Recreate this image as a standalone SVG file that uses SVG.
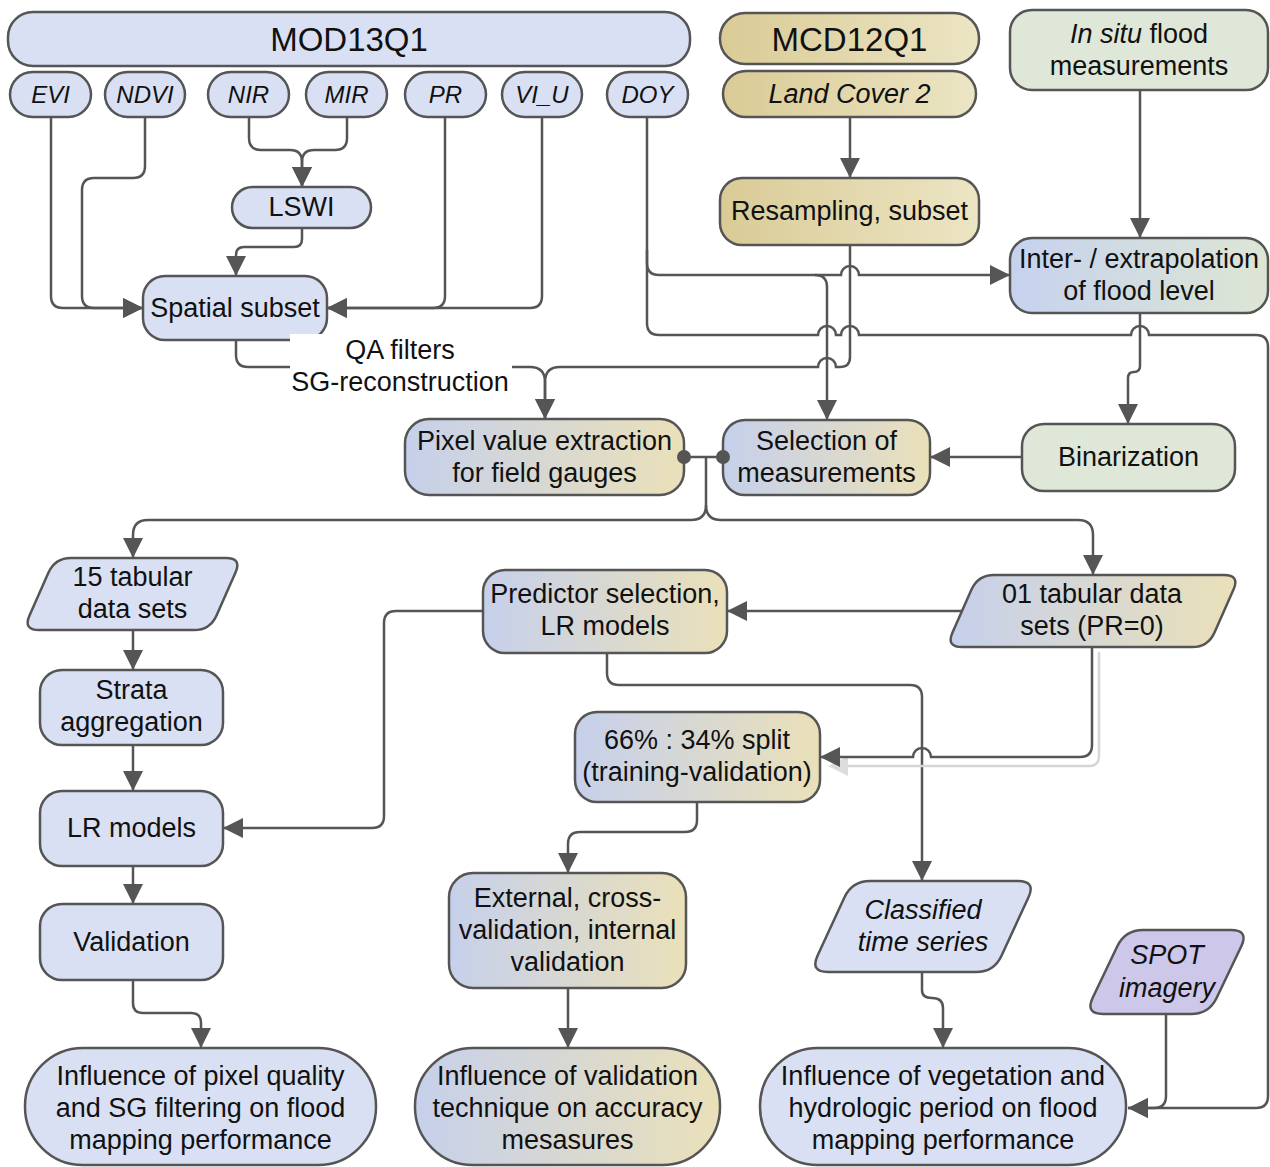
<svg xmlns="http://www.w3.org/2000/svg" width="1270" height="1167" viewBox="0 0 1270 1167">
<defs>
<style>
.n{stroke:#555;stroke-width:2.5}
.b{fill:#d9e0f3}
.g{fill:#dfe7d9}
.p{fill:#cdc7ea}
.t{font-family:"Liberation Sans",Arial,sans-serif;font-size:27px;fill:#111;text-anchor:middle}
.s{font-size:24px;font-style:italic}
.h{font-size:33px}
.i{font-style:italic}
.c{fill:none;stroke:#555;stroke-width:2.5}
</style>
<linearGradient id="gBT" x1="0" y1="0" x2="1" y2="0"><stop offset="0" stop-color="#c6d0eb"/><stop offset="1" stop-color="#eae0b9"/></linearGradient>
<linearGradient id="gBG" x1="0" y1="0" x2="1" y2="0"><stop offset="0" stop-color="#c6d2ee"/><stop offset="1" stop-color="#dde6d4"/></linearGradient>
<linearGradient id="gT" x1="0" y1="0" x2="1" y2="0"><stop offset="0" stop-color="#dacb96"/><stop offset="1" stop-color="#ece5c4"/></linearGradient>
<marker id="ah" markerUnits="userSpaceOnUse" markerWidth="20" markerHeight="20" refX="20" refY="10" orient="auto"><path d="M0,0 L20,10 L0,20 Z" fill="#555"/></marker>
</defs>
<rect width="1270" height="1167" fill="#fff"/>

<g id="connectors">
<path class="c" d="M51,117 V296 Q51,308 63,308 H143" marker-end="url(#ah)"/>
<path class="c" d="M145,117 V166 Q145,178 133,178 H94 Q82,178 82,190 V296 Q82,308 94,308 H143" marker-end="url(#ah)"/>
<path class="c" d="M249,117 V138 Q249,150 261,150 H290 Q302,150 302,162 V187" marker-end="url(#ah)"/>
<path class="c" d="M347,117 V138 Q347,150 335,150 H314 Q302,150 302,162 V187" marker-end="url(#ah)"/>
<path class="c" d="M302,228 V239 Q302,247 294,247 H244 Q236,247 236,255 V276" marker-end="url(#ah)"/>
<path class="c" d="M445,117 V296 Q445,308 433,308 H327" marker-end="url(#ah)"/>
<path class="c" d="M542,117 V296 Q542,308 530,308 H327" marker-end="url(#ah)"/>
<path class="c" d="M236,340 V355 Q236,367 248,367 H530 Q545,367 545,382 V419" marker-end="url(#ah)"/>
<path class="c" d="M850,245 V357 Q850,367 840,367 H836 A9,9 0 0 0 818,367 H560 Q545,367 545,382 V419" marker-end="url(#ah)"/>
<path class="c" d="M850,117 V178" marker-end="url(#ah)"/>
<path class="c" d="M1140,90 V238" marker-end="url(#ah)"/>
<path class="c" d="M647,117 V263 Q647,275 659,275 H841 A9,9 0 0 1 859,275 H1010" marker-end="url(#ah)"/>
<path class="c" d="M815,275 Q827,275 827,287 V420" marker-end="url(#ah)"/>
<path class="c" d="M647,250 V323 Q647,335 659,335 H818 A9,9 0 0 1 836,335 H841 A9,9 0 0 1 859,335 H1131 A9,9 0 0 1 1149,335 H1256 Q1268,335 1268,347 V1096 Q1268,1108 1256,1108 H1128" marker-end="url(#ah)"/>
<path class="c" d="M1140,313 V366 Q1140,372 1134,372 Q1128,372 1128,378 V424" marker-end="url(#ah)"/>
<path class="c" d="M1022,457 H930" marker-end="url(#ah)"/>
<path class="c" d="M684,457 H723 M706,457 V505"/>
<path class="c" d="M706,505 Q706,520 691,520 H148 Q133,520 133,535 V558" marker-end="url(#ah)"/>
<path class="c" d="M706,505 Q706,520 721,520 H1078 Q1093,520 1093,535 V575" marker-end="url(#ah)"/>
<path class="c" d="M133,630 V670" marker-end="url(#ah)"/>
<path class="c" d="M133,745 V791" marker-end="url(#ah)"/>
<path class="c" d="M133,866 V904" marker-end="url(#ah)"/>
<path class="c" d="M133,980 V1003 Q133,1013 143,1013 H191 Q201,1013 201,1023 V1048" marker-end="url(#ah)"/>
<path class="c" d="M962,611 H727" marker-end="url(#ah)"/>
<path class="c" d="M483,611 H396 Q384,611 384,623 V816 Q384,828 372,828 H223" marker-end="url(#ah)"/>
<path class="c" d="M607,653 V673 Q607,685 619,685 H910 Q922,685 922,697 V881" marker-end="url(#ah)"/>
<path fill="none" stroke="#d6d6d6" stroke-width="2.5" d="M1099,652 V756 Q1099,766 1089,766 H846"/>
<polygon points="828,766 848,756 848,776" fill="#dcdcdc"/>
<path class="c" d="M1092,647 V745 Q1092,757 1080,757 H931 A9,9 0 0 0 913,757 H820" marker-end="url(#ah)"/>
<path class="c" d="M697,802 V820 Q697,832 685,832 H580 Q568,832 568,844 V873" marker-end="url(#ah)"/>
<path class="c" d="M568,988 V1048" marker-end="url(#ah)"/>
<path class="c" d="M922,972 V990 Q922,998 932,998 Q943,998 943,1008 V1048" marker-end="url(#ah)"/>
<path class="c" d="M1166,1014 V1096 Q1166,1108 1154,1108 H1128" marker-end="url(#ah)"/>
</g>

<g id="mod13q1"><rect class="n b" x="8" y="12" width="682" height="54" rx="25"/><text class="t h" x="349" y="51">MOD13Q1</text></g>
<g id="evi"><rect class="n b" x="10" y="72" width="81" height="45" rx="22.5"/><text class="t s" x="50.5" y="103">EVI</text></g>
<g id="ndvi"><rect class="n b" x="105" y="72" width="80" height="45" rx="22.5"/><text class="t s" x="145" y="103">NDVI</text></g>
<g id="nir"><rect class="n b" x="208" y="72" width="81" height="45" rx="22.5"/><text class="t s" x="248.5" y="103">NIR</text></g>
<g id="mir"><rect class="n b" x="306" y="72" width="81" height="45" rx="22.5"/><text class="t s" x="346.5" y="103">MIR</text></g>
<g id="pr"><rect class="n b" x="405" y="72" width="81" height="45" rx="22.5"/><text class="t s" x="445.5" y="103">PR</text></g>
<g id="viu"><rect class="n b" x="502" y="72" width="80" height="45" rx="22.5"/><text class="t s" x="542" y="103">VI_U</text></g>
<g id="doy"><rect class="n b" x="607" y="72" width="81" height="45" rx="22.5"/><text class="t s" x="647.5" y="103">DOY</text></g>
<g id="mcd12q1"><rect class="n" fill="url(#gT)" x="720" y="13" width="259" height="51" rx="25"/><text class="t h" x="849.5" y="51">MCD12Q1</text></g>
<g id="landcover"><rect class="n" fill="url(#gT)" x="723" y="71" width="253" height="46" rx="23"/><text class="t i" x="849.5" y="103">Land Cover 2</text></g>
<g id="insitu"><rect class="n g" x="1010" y="10" width="258" height="80" rx="22"/><text class="t" x="1139" y="43"><tspan font-style="italic">In situ</tspan> flood</text><text class="t" x="1139" y="75">measurements</text></g>
<g id="lswi"><rect class="n b" x="232" y="187" width="139" height="41" rx="20.5"/><text class="t" x="301.5" y="216">LSWI</text></g>
<g id="spatial"><rect class="n b" x="143" y="276" width="184" height="64" rx="22"/><text class="t" x="235" y="317">Spatial subset</text></g>
<g id="resampling"><rect class="n" fill="url(#gT)" x="720" y="178" width="259" height="67" rx="22"/><text class="t" x="849.5" y="220">Resampling, subset</text></g>
<g id="interp"><rect class="n" fill="url(#gBG)" x="1010" y="238" width="258" height="75" rx="22"/><text class="t" x="1139" y="268">Inter- / extrapolation</text><text class="t" x="1139" y="300">of flood level</text></g>
<g id="pixel"><rect class="n" fill="url(#gBT)" x="405" y="419" width="279" height="76" rx="24"/><text class="t" x="544.5" y="450">Pixel value extraction</text><text class="t" x="544.5" y="482">for field gauges</text></g>
<g id="selection"><rect class="n" fill="url(#gBT)" x="723" y="420" width="207" height="75" rx="22"/><text class="t" x="826.5" y="450">Selection of</text><text class="t" x="826.5" y="482">measurements</text></g>
<g id="binarization"><rect class="n g" x="1022" y="424" width="213" height="67" rx="22"/><text class="t" x="1128.5" y="466">Binarization</text></g>
<g id="tab15"><path class="n b" d="M71,558 L226,558 Q242,558 235.5,572.6 L216.5,615.4 Q210,630 194,630 L39,630 Q23,630 29.5,615.4 L48.5,572.6 Q55,558 71,558 Z"/><text class="t" x="132.5" y="586">15 tabular</text><text class="t" x="132.5" y="618">data sets</text></g>
<g id="predictor"><rect class="n" fill="url(#gBT)" x="483" y="570" width="244" height="83" rx="22"/><text class="t" x="605" y="603">Predictor selection,</text><text class="t" x="605" y="635">LR models</text></g>
<g id="tab01"><path class="n" fill="url(#gBT)" d="M994,575 L1224,575 Q1240,575 1233.5,589.6 L1214.5,632.4 Q1208,647 1192,647 L962,647 Q946,647 952.5,632.4 L971.5,589.6 Q978,575 994,575 Z"/><text class="t" x="1092" y="603">01 tabular data</text><text class="t" x="1092" y="635">sets (PR=0)</text></g>
<g id="strata"><rect class="n b" x="40" y="670" width="183" height="75" rx="22"/><text class="t" x="131.5" y="699">Strata</text><text class="t" x="131.5" y="731">aggregation</text></g>
<g id="split"><rect class="n" fill="url(#gBT)" x="575" y="712" width="245" height="90" rx="22"/><text class="t" x="697" y="749">66% : 34% split</text><text class="t" x="697" y="781">(training-validation)</text></g>
<g id="lrmodels"><rect class="n b" x="40" y="791" width="183" height="75" rx="22"/><text class="t" x="131.5" y="837">LR models</text></g>
<g id="validation"><rect class="n b" x="40" y="904" width="183" height="76" rx="22"/><text class="t" x="131.5" y="951">Validation</text></g>
<g id="external"><rect class="n" fill="url(#gBT)" x="449" y="873" width="237" height="115" rx="24"/><text class="t" x="567.5" y="907">External, cross-</text><text class="t" x="567.5" y="939">validation, internal</text><text class="t" x="567.5" y="971">validation</text></g>
<g id="classified"><path class="n b" d="M870,881 L1018,881 Q1036,881 1028.5,897.3 L1001.5,955.7 Q994,972 976,972 L828,972 Q810,972 817.5,955.7 L844.5,897.3 Q852,881 870,881 Z"/><text class="t i" x="923" y="919">Classified</text><text class="t i" x="923" y="951">time series</text></g>
<g id="spot"><path class="n p" d="M1143,930 L1231,930 Q1249,930 1241.3,946.3 L1216.7,997.7 Q1209,1014 1191,1014 L1103,1014 Q1085,1014 1092.7,997.7 L1117.3,946.3 Q1125,930 1143,930 Z"/><text class="t i" x="1167" y="964">SPOT</text><text class="t i" x="1167" y="997">imagery</text></g>
<g id="infl-pixel"><rect class="n b" x="25" y="1048" width="351" height="117" rx="58" ry="58"/><text class="t" x="200.5" y="1085">Influence of pixel quality</text><text class="t" x="200.5" y="1117">and SG filtering on flood</text><text class="t" x="200.5" y="1149">mapping performance</text></g>
<g id="infl-validation"><rect class="n" fill="url(#gBT)" x="415" y="1048" width="305" height="117" rx="58" ry="58"/><text class="t" x="567.5" y="1085">Influence of validation</text><text class="t" x="567.5" y="1117">technique on accuracy</text><text class="t" x="567.5" y="1149">mesasures</text></g>
<g id="infl-vegetation"><rect class="n b" x="760" y="1048" width="366" height="117" rx="58" ry="58"/><text class="t" x="943" y="1085">Influence of vegetation and</text><text class="t" x="943" y="1117">hydrologic period on flood</text><text class="t" x="943" y="1149">mapping performance</text></g>

<g id="connector-ends">
<circle cx="684" cy="457" r="7" fill="#555"/>
<circle cx="723" cy="457" r="7" fill="#555"/>
</g>
<g id="label-qa"><rect x="290" y="334" width="222" height="64" fill="#fff"/><text class="t" x="400" y="359">QA filters</text><text class="t" x="400" y="391">SG-reconstruction</text></g>
</svg>
